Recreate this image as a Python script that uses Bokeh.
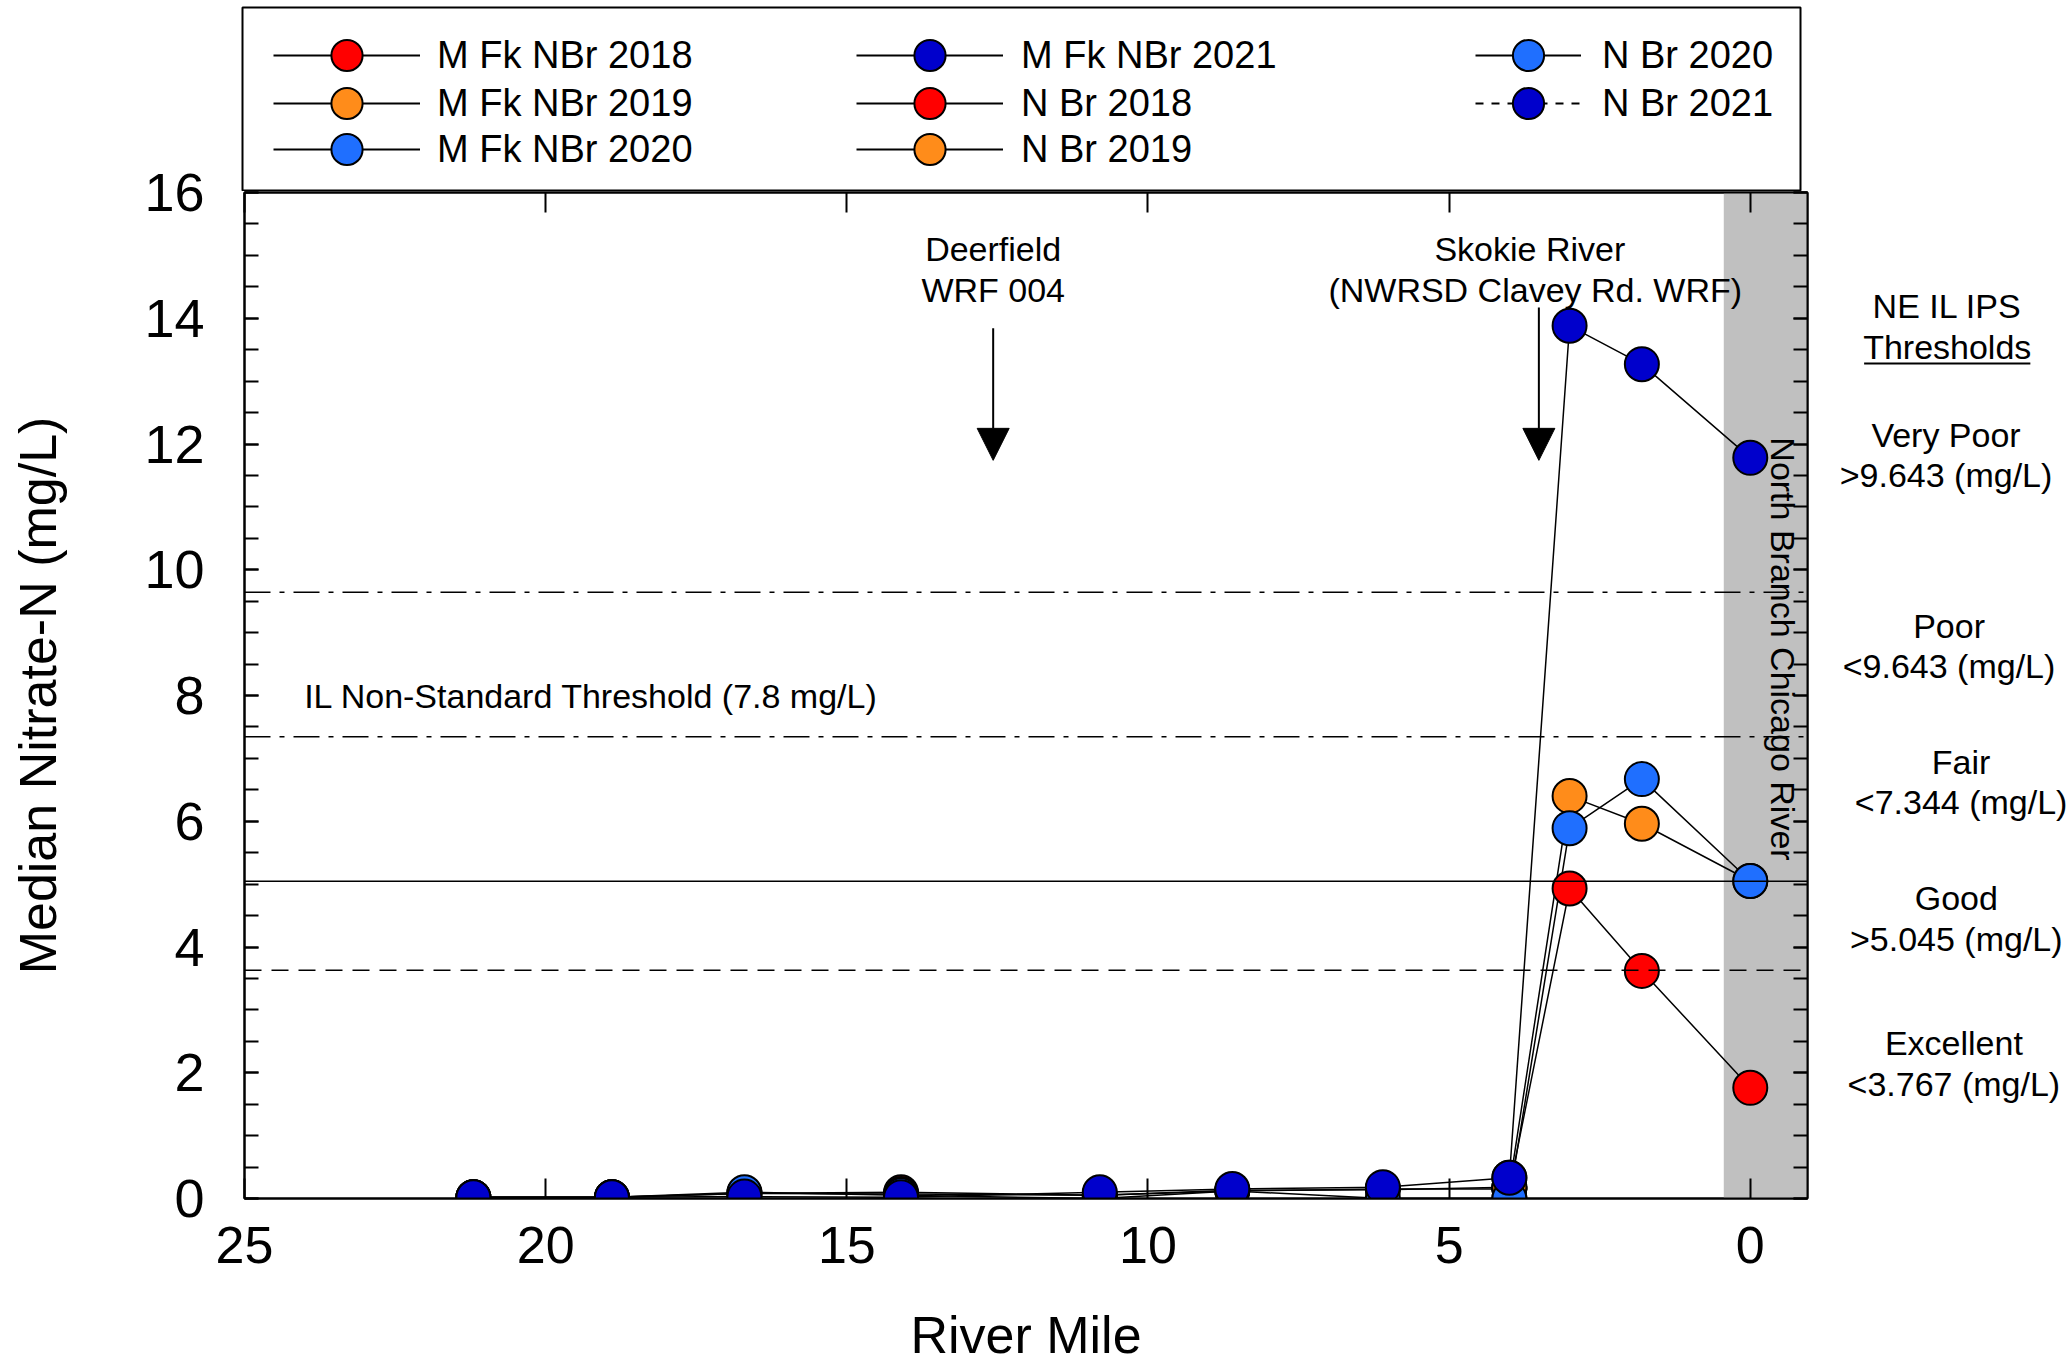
import math
from bokeh.plotting import figure
from bokeh.layouts import column, row
from bokeh.models import (Range1d, LinearAxis, FixedTicker, Span, BoxAnnotation, Label,
                          Arrow, NormalHead, Legend, LegendItem)
from bokeh.embed import file_html
from bokeh.resources import INLINE

FONT = "Liberation Sans"
NAN = float("nan")

# ---------------- data ----------------
mfk_miles = [21.2, 18.9, 16.7, 14.1, 10.8, 8.6, 6.1, 4.0]
nbr_miles = [4.0, 3.0, 1.8, 0.0]

mfk_2018 = [0.02, 0.02, 0.08, 0.10, 0.05, 0.12, 0.15, 0.15]
mfk_2019 = [0.02, 0.02, 0.08, 0.07, 0.05, 0.13, 0.14, 0.18]
mfk_2020 = [0.02, 0.02, 0.10, 0.05, 0.00, 0.12, 0.00, 0.00]
mfk_2021 = [0.02, 0.02, 0.03, 0.02, 0.10, 0.15, 0.18, 0.33]

nbr_2018 = [0.15, 4.93, 3.62, 1.76]
nbr_2019 = [0.18, 6.40, 5.96, 5.05]
nbr_2020 = [0.00, 5.89, 6.67, 5.05]
nbr_2021 = [0.33, 13.88, 13.27, 11.78]

series_names = ["M Fk NBr 2018", "M Fk NBr 2019", "M Fk NBr 2020", "M Fk NBr 2021",
                "N Br 2018", "N Br 2019", "N Br 2020", "N Br 2021"]
series_x = [mfk_miles] * 4 + [nbr_miles] * 4
series_y = [mfk_2018, mfk_2019, mfk_2020, mfk_2021, nbr_2018, nbr_2019, nbr_2020, nbr_2021]
series_colors = ["#ff0000", "#ff8c1a", "#1f6fff", "#0000cc",
                 "#ff0000", "#ff8c1a", "#1f6fff", "#0000cc"]
legend_dash = ["solid"] * 7 + ["8 8"]

x_ticks = [25, 20, 15, 10, 5, 0]
y_ticks = [0, 2, 4, 6, 8, 10, 12, 14, 16]
y_minor = [i * 0.5 for i in range(33)]

thr_very_poor = 9.643
thr_poor = 7.344
thr_good = 5.045
thr_excellent = 3.63

key_titles = ["NE IL IPS", "Thresholds"]
key_classes = ["Very Poor", "Poor", "Fair", "Good", "Excellent"]
key_limits = [">9.643 (mg/L)", "<9.643 (mg/L)", "<7.344 (mg/L)", ">5.045 (mg/L)", "<3.767 (mg/L)"]

# ---------------- layout constants (pixels) ----------------
TOTAL_W = 2068
LEG_H = 191
OVERLAP = 30
ML, FW, MR = 244, 1563, 4
MT, FH, MB = 1 + OVERLAP, 1006, 170
MAIN_W = ML + FW + MR
MAIN_H = MT + FH + MB
KEY_W = TOTAL_W - MAIN_W
X0, X1 = 25.0, -0.95
Y0, Y1 = 0.0, 16.0
xpp = (X0 - X1) / FW

# ---------------- key figure above (legend) ----------------
lf = figure(width=TOTAL_W, height=LEG_H, x_range=Range1d(0, 1), y_range=Range1d(0, 1),
            x_axis_location=None, y_axis_location=None, output_backend="svg", toolbar_location=None,
            min_border_left=242, min_border_right=TOTAL_W - 1800, min_border_top=7, min_border_bottom=1,
            background_fill_color="white", border_fill_color="white")
lf.xgrid.visible = False
lf.ygrid.visible = False
lf.outline_line_color = "black"
lf.outline_line_width = 2

items = []
for n, c, d in zip(series_names, series_colors, legend_dash):
    lr = lf.line([NAN], [NAN], line_color="black", line_width=2, line_dash=d)
    sr = lf.scatter([NAN], [NAN], size=32, fill_color=c, line_color="black", line_width=2)
    items.append(LegendItem(label=n, renderers=[lr, sr]))

GH = 78
row_bottoms = [96, 48, 2]            # px above the key frame's bottom edge
col_specs = [(31, 147, 17), (614, 147, 18), (1233, 106, 21)]
for i, it in enumerate(items):
    ci, ri = divmod(i, 3)
    x0, gw, so = col_specs[ci]
    lg = Legend(items=[it], location=(x0, row_bottoms[ri]), orientation="vertical",
                padding=0, margin=0, spacing=0, glyph_width=gw, glyph_height=GH, label_height=GH,
                label_standoff=so, label_text_font=FONT, label_text_font_size="38px",
                label_text_color="black", border_line_color=None, background_fill_alpha=0.0)
    lf.add_layout(lg)

# ---------------- main figure ----------------
p = figure(width=MAIN_W, height=MAIN_H,
           x_range=Range1d(X0, X1), y_range=Range1d(Y0, Y1),
           output_backend="svg", toolbar_location=None,
           min_border_left=ML, min_border_right=MR, min_border_bottom=MB, min_border_top=MT,
           background_fill_color="white", border_fill_alpha=0.0)
p.xgrid.visible = False
p.ygrid.visible = False
p.outline_line_color = "black"
p.outline_line_width = 2

p.add_layout(BoxAnnotation(left=0.44, right=X1, fill_color="#c0c0c0", fill_alpha=1.0,
                           line_color=None, level="underlay"))

p.add_layout(Span(location=thr_very_poor, dimension="width", line_color="black", line_width=1.5,
                  line_dash="26 9 5 9"))
p.add_layout(Span(location=thr_poor, dimension="width", line_color="black", line_width=1.5,
                  line_dash="26 9 5 9"))
p.add_layout(Span(location=thr_good, dimension="width", line_color="black", line_width=1.5))
p.add_layout(Span(location=thr_excellent, dimension="width", line_color="black", line_width=1.5,
                  line_dash="17 10"))

for xs, ys in zip(series_x, series_y):
    p.line(xs, ys, line_color="black", line_width=1.5)
for xs, ys, c in zip(series_x, series_y, series_colors):
    p.scatter(xs, ys, size=34, fill_color=c, line_color="black", line_width=2)

ax = p.xaxis[0]
ax.ticker = FixedTicker(ticks=x_ticks)
ax.major_tick_in = 20
ax.major_tick_out = 0
ax.minor_tick_line_color = None
ax.axis_line_width = 2
ax.major_tick_line_width = 2
ax.major_label_text_font = FONT
ax.major_label_text_font_size = "52px"
ax.major_label_text_color = "black"
ax.major_label_standoff = 28
ax.axis_label = "River Mile"
ax.axis_label_text_font = FONT
ax.axis_label_text_font_size = "52px"
ax.axis_label_text_font_style = "normal"
ax.axis_label_text_color = "black"
ax.axis_label_standoff = 40

ay = p.yaxis[0]
ay.ticker = FixedTicker(ticks=y_ticks, minor_ticks=y_minor)
ay.major_tick_in = 14
ay.major_tick_out = 0
ay.minor_tick_in = 14
ay.minor_tick_out = 0
ay.axis_line_width = 2
ay.major_tick_line_width = 2
ay.minor_tick_line_width = 2
ay.major_label_text_font = FONT
ay.major_label_text_font_size = "54px"
ay.major_label_text_color = "black"
ay.major_label_standoff = 40
ay.axis_label = "Median Nitrate-N (mg/L)"
ay.axis_label_text_font = FONT
ay.axis_label_text_font_size = "52px"
ay.axis_label_text_font_style = "normal"
ay.axis_label_text_color = "black"
ay.axis_label_standoff = 74

top_axis = LinearAxis(ticker=FixedTicker(ticks=x_ticks), major_tick_in=20, major_tick_out=0,
                      major_tick_line_width=2, minor_tick_line_color=None, axis_line_width=2,
                      major_label_overrides={t: "" for t in x_ticks}, major_label_standoff=0,
                      major_label_text_font_size="1px")
p.add_layout(top_axis, "above")

right_axis = LinearAxis(ticker=FixedTicker(ticks=y_ticks, minor_ticks=y_minor),
                        major_tick_in=14, major_tick_out=0, minor_tick_in=14, minor_tick_out=0,
                        major_tick_line_width=2, minor_tick_line_width=2, axis_line_width=2,
                        major_label_overrides={t: "" for t in y_ticks}, major_label_standoff=0,
                        major_label_text_font_size="1px")
p.add_layout(right_axis, "right")


def lab(fig, x, y, t, align="center", size="34px", angle=0.0):
    fig.add_layout(Label(x=x, y=y, text=t, text_font=FONT, text_font_size=size,
                         text_align=align, text_baseline="middle", text_color="black", angle=angle))


lab(p, 12.57, 15.10, "Deerfield")
lab(p, 12.57, 14.45, "WRF 004")
lab(p, 3.66, 15.10, "Skokie River")
lab(p, 3.57, 14.45, "(NWRSD Clavey Rd. WRF)")
lab(p, 24.01, 7.99, "IL Non-Standard Threshold (7.8 mg/L)", align="left")
lab(p, -0.55, 8.74, "North Branch Chicago River", angle=-math.pi / 2)

p.add_layout(Arrow(end=NormalHead(size=32, fill_color="black", line_color="black"),
                   x_start=12.57, y_start=13.84, x_end=12.57, y_end=11.74, line_width=2))
p.add_layout(Arrow(end=NormalHead(size=32, fill_color="black", line_color="black"),
                   x_start=3.51, y_start=14.17, x_end=3.51, y_end=11.74, line_width=2))

# ---------------- threshold key figure (right; frame aligned with the main frame) ----------------
kx0 = X1 - MR * xpp
kx1 = X1 - (MR + KEY_W) * xpp
kf = figure(width=KEY_W, height=MAIN_H, x_range=Range1d(kx0, kx1), y_range=Range1d(Y0, Y1),
            x_axis_location=None, y_axis_location=None, output_backend="svg", toolbar_location=None,
            min_border_left=0, min_border_right=0, min_border_top=MT, min_border_bottom=MB,
            background_fill_color="white", border_fill_alpha=0.0)
kf.xgrid.visible = False
kf.ygrid.visible = False
kf.outline_line_color = None

lab(kf, -3.27, 14.20, key_titles[0])
lab(kf, -3.27, 13.55, key_titles[1])
kf.add_layout(Arrow(end=None, x_start=-1.89, y_start=13.28, x_end=-4.65, y_end=13.28, line_width=2))
key_x = [-3.25, -3.30, -3.50, -3.42, -3.38]
key_y_class = [12.14, 9.10, 6.94, 4.78, 2.47]
key_y_limit = [11.51, 8.47, 6.31, 4.13, 1.82]
for kxx, yc, yl, c, lim in zip(key_x, key_y_class, key_y_limit, key_classes, key_limits):
    lab(kf, kxx, yc, c)
    lab(kf, kxx, yl, lim)

layout = column(lf, row(p, kf, spacing=0, margin=(-OVERLAP, 0, 0, 0)), spacing=0)
open("out.html", "w").write(file_html(layout, INLINE))
